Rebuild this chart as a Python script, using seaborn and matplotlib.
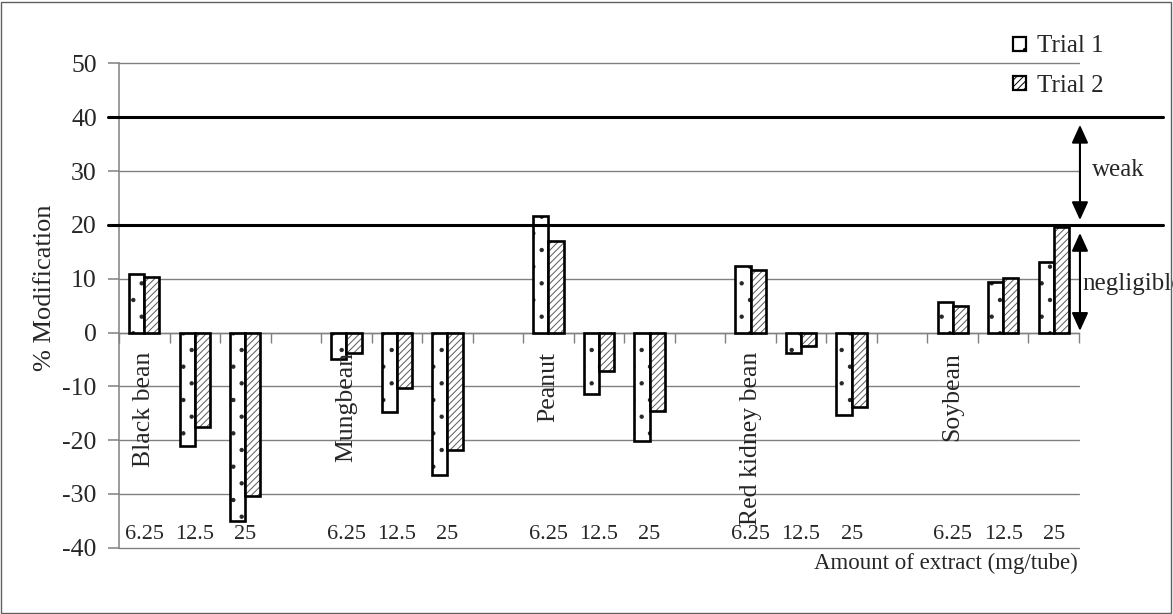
import numpy as np
import pandas as pd
import matplotlib
matplotlib.use("Agg")
import matplotlib.pyplot as plt
import matplotlib.patches as mpatches
import matplotlib.patheffects as pe
import matplotlib.transforms as mtransforms
import seaborn as sns

# ---- data -------------------------------------------------------------
beans = ["Black bean", "Mungbean", "Peanut", "Red kidney bean", "Soybean"]
doses = ["6.25", "12.5", "25"]
trial1 = [10.8, -21.1, -35.0, -5.0, -14.8, -26.4, 21.7, -11.5, -20.2,
          12.4, -3.8, -15.4, 5.6, 9.4, 13.1]
trial2 = [10.35, -17.6, -30.4, -3.9, -10.4, -21.8, 17.0, -7.2, -14.6,
          11.6, -2.5, -13.9, 5.0, 10.1, 19.7]
trials = ["Trial 1", "Trial 2"]
thresholds = [20, 40]
ytick_values = list(range(-40, 51, 10))

# ---- long table ------------------------------------------------------
keys = [f"{b} | {d}" for b in beans for d in doses]
rows = []
for k, v1, v2 in zip(keys, trial1, trial2):
    rows.append((k, trials[0], v1))
    rows.append((k, trials[1], v2))
df = pd.DataFrame(rows, columns=["key", "trial", "value"])

# category order with one empty slot between bean groups
order = []
for i, b in enumerate(beans):
    order += [f"{b} | {d}" for d in doses]
    if i < len(beans) - 1:
        order.append(" " * (i + 1))

# ---- style -----------------------------------------------------------
sns.set_style("white")
plt.rcParams["font.family"] = ["Liberation Serif", "DejaVu Serif"]
plt.rcParams["hatch.linewidth"] = 0.7

W, H = 1173, 614
fig = plt.figure(figsize=(W / 100, H / 100), dpi=100)
ax = fig.add_axes([119 / W, 1 - 547.7 / H, 960 / W, (547.7 - 63.5) / H])

sns.barplot(data=df, x="key", y="value", hue="trial", order=order,
            hue_order=trials, palette=["white", "white"], saturation=1,
            edgecolor="black", linewidth=1.9, width=0.6, errorbar=None,
            legend=False, ax=ax)

hatches = [".", "/////"]
hatch_colors = [(0.15, 0.15, 0.15, 1.0), (0.35, 0.35, 0.35, 1.0)]
for cont, h, hc in zip(ax.containers, hatches, hatch_colors):
    for bar in cont:
        bar.set_hatch(h)
        bar.set_zorder(3)
        bar.set_path_effects([pe.Stroke(hatch_color=hc)])

ax.set_xlim(-0.5, len(order) - 0.5)
ax.set_ylim(-40, 50)
ax.set_xlabel("")
ax.set_ylabel("")

# y axis
grey = "#808080"
ax.set_yticks(ytick_values)
ax.set_yticklabels([str(v) for v in ytick_values], fontsize=18.5)
ax.tick_params(axis="y", direction="out", length=8, width=1.1, color=grey,
               pad=8, left=True)
ax.yaxis.grid(True, color=grey, linewidth=1.0)
for gl in ax.get_ygridlines():
    gl.set_clip_on(False)
ax.set_axisbelow(True)

# category axis drawn along zero with ticks at slot boundaries
ax.set_xticks(np.arange(-0.5, len(order), 1.0))
ax.set_xticklabels([])
ax.tick_params(axis="x", direction="out", length=7, width=1.0, color=grey,
               bottom=True, labelbottom=False)
for s in ["top", "right"]:
    ax.spines[s].set_visible(False)
ax.spines["bottom"].set_position(("data", 0))
ax.spines["bottom"].set_color(grey)
ax.spines["bottom"].set_linewidth(1.0)
ax.spines["left"].set_color(grey)
ax.spines["left"].set_linewidth(1.1)

# dose labels along the bottom, bean names below the zero line
for key in keys:
    pos = order.index(key)
    ax.text(pos, -37.6, key.split(" | ")[1], ha="center", va="center",
            fontsize=16)
for b in beans:
    pos = order.index(f"{b} | {doses[0]}")
    ax.text(pos, -3.6, b, rotation=90, ha="center", va="top", fontsize=18.5,
            zorder=5)

# threshold lines
for t in thresholds:
    ax.axhline(t, xmin=-0.011, xmax=1.087, color="black", linewidth=2.2,
               clip_on=False, zorder=4)

# bracket arrows on the right
trans = mtransforms.blended_transform_factory(ax.transAxes, ax.transData)
arrow_kw = dict(arrowstyle="<|-|>,head_length=0.55,head_width=0.25",
                color="black", lw=1.5, mutation_scale=20,
                shrinkA=0, shrinkB=0)
ax.annotate("", xy=(1.001, 20.9), xycoords=trans, xytext=(1.001, 38.6),
            textcoords=trans, arrowprops=arrow_kw, annotation_clip=False)
ax.annotate("", xy=(1.001, 0.3), xycoords=trans, xytext=(1.001, 18.5),
            textcoords=trans, arrowprops=arrow_kw, annotation_clip=False)
ax.text(1.0135, 30.2, "weak", transform=trans, ha="left", va="center",
        fontsize=18, clip_on=False)
ax.text(1.003, 9.1, "negligible", transform=trans, ha="left", va="center",
        fontsize=18, clip_on=False)

# axis titles
fig.text(45 / W, 1 - 288 / H, "% Modification", rotation=90, ha="center",
         va="center", fontsize=19)
fig.text(1078 / W, 1 - 563 / H, "Amount of extract (mg/tube)", ha="right",
         va="center", fontsize=16.5)

# legend
handles = [mpatches.Patch(facecolor="white", edgecolor="black",
                          linewidth=1.6, hatch=h) for h in hatches]
fig.legend(handles, trials, loc="center left",
           bbox_to_anchor=(1013 / W, 1 - 66 / H), frameon=False,
           fontsize=18, handlelength=0.5, handleheight=0.5,
           handletextpad=0.45, labelspacing=0.68, borderpad=0,
           borderaxespad=0)

# outer frame
fig.add_artist(mpatches.Rectangle((1 / W, 1 / H), 1 - 3 / W, 1 - 3 / H,
                                  transform=fig.transFigure, fill=False,
                                  edgecolor="#606060", linewidth=1.0))

fig.savefig("out.png", dpi=100)
